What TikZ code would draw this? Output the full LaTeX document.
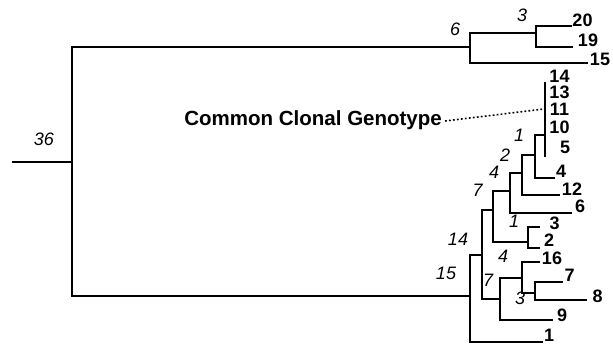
\documentclass[tikz,border=0pt]{standalone}
\usepackage{fontspec}
\setmainfont{Liberation Sans}
\usetikzlibrary{calc}
\begin{document}
\begin{tikzpicture}[x=1pt,y=-1pt,
  br/.style={line width=1.8pt},
  leaf/.style={font=\bfseries\fontsize{18}{18}\selectfont, inner sep=0pt},
  len/.style={font=\itshape\fontsize{18}{18}\selectfont, inner sep=0pt},
  callout/.style={font=\bfseries\fontsize{20.5}{20.5}\selectfont, inner sep=0pt}]
\useasboundingbox (0,0) rectangle (613,345);

% internal nodes (vertical bar x, attachment y)
\coordinate (stub) at (12,162);
\coordinate (r) at (72,162);
\coordinate (A) at (470,47);
\coordinate (A1) at (536,33);
\coordinate (B) at (470,296);
\coordinate (B1) at (482,255);
\coordinate (C) at (493,210);
\coordinate (D) at (500,299);
\coordinate (E) at (510,191);
\coordinate (F) at (528,242);
\coordinate (G) at (522,173);
\coordinate (H) at (535,155);
\coordinate (I) at (545,135);
\coordinate (J) at (522,278);
\coordinate (K) at (535,293);
% tips
\coordinate (t20) at (572,26);
\coordinate (t19) at (573,47);
\coordinate (t15) at (588,63);
\coordinate (t4) at (555,178);
\coordinate (t12) at (560,195);
\coordinate (t6) at (572,213);
\coordinate (t3) at (540,227);
\coordinate (t2) at (540,248);
\coordinate (t16) at (540,262);
\coordinate (t7) at (563,282);
\coordinate (t8) at (587,300);
\coordinate (t9) at (553,320);
\coordinate (t1) at (543,342);
\coordinate (ctop) at (545,82);
\coordinate (cbot) at (545,157);
\coordinate (dotend) at (544,109);

% branches
\draw[br] (stub) -- (r);
\draw[br] (r) |- (A);
\draw[br] (r) |- (B);
\draw[br] (A) |- (A1);
\draw[br] (A) |- (t15);
\draw[br] (A1) |- (t20);
\draw[br] (A1) |- (t19);
\draw[br] (B) |- (B1);
\draw[br] (B) |- (t1);
\draw[br] (B1) |- (C);
\draw[br] (B1) |- (D);
\draw[br] (C) |- (E);
\draw[br] (C) |- (F);
\draw[br] (E) |- (G);
\draw[br] (E) |- (t6);
\draw[br] (G) |- (H);
\draw[br] (G) |- (t12);
\draw[br] (H) |- (I);
\draw[br] (H) |- (t4);
\draw[br] (ctop) -- (cbot);
\draw[br] (F) |- (t3);
\draw[br] (F) |- (t2);
\draw[br] (D) |- (J);
\draw[br] (D) |- (t9);
\draw[br] (J) |- (t16);
\draw[br] (J) |- (K);
\draw[br] (K) |- (t7);
\draw[br] (K) |- (t8);

% leaf labels
\node[leaf] (l20) at (582.5,20) {20};
\node[leaf] (l19) at (588,40) {19};
\node[leaf] (l15) at (600,59) {15};
\node[leaf] (l14) at (559.5,76) {14};
\node[leaf] (l13) at (559.5,92.5) {13};
\node[leaf] (l11) at (559.5,109) {11};
\node[leaf] (l10) at (559.5,127.5) {10};
\node[leaf] (l5) at (565,147.5) {5};
\node[leaf] (l4) at (561,171) {4};
\node[leaf] (l12) at (572,189.5) {12};
\node[leaf] (l6) at (580,206.5) {6};
\node[leaf] (l3) at (554.5,223) {3};
\node[leaf] (l2) at (549,240) {2};
\node[leaf] (l16) at (552,258) {16};
\node[leaf] (l7) at (569.5,275) {7};
\node[leaf] (l8) at (597.5,296.5) {8};
\node[leaf] (l9) at (562,315) {9};
\node[leaf] (l1) at (549,335) {1};

% branch lengths
\node[len] (n36) at (44,139) {36};
\node[len] (n6) at (455,29) {6};
\node[len] (n3a) at (522,15) {3};
\node[len] (n1a) at (519,135) {1};
\node[len] (n2) at (505,155) {2};
\node[len] (n4a) at (494,172) {4};
\node[len] (n7a) at (477.5,190) {7};
\node[len] (n1b) at (514,221) {1};
\node[len] (n14) at (458,239) {14};
\node[len] (n4b) at (503,256) {4};
\node[len] (n15) at (446,273) {15};
\node[len] (n7b) at (488,280) {7};
\node[len] (n3b) at (520,298.5) {3};

% callout for the shared genotype
\node[callout, anchor=base east] (ccg) at (442,125) {Common Clonal Genotype};
\coordinate (dotstart) at ($(ccg.base east)+(3,-4)$);
\draw[line width=1.6pt, dash pattern=on 1.8pt off 2.2pt] (dotstart) -- (dotend);
\end{tikzpicture}
\end{document}
